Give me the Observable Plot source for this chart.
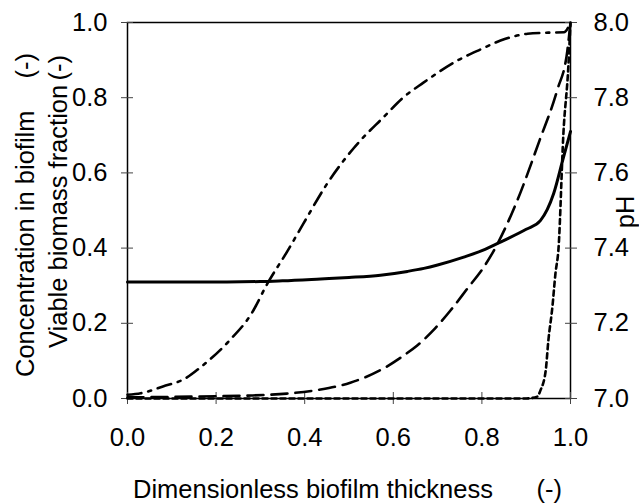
<!DOCTYPE html>
<html>
<head>
<meta charset="utf-8">
<script src="https://cdn.jsdelivr.net/npm/d3@7"></script>
<script src="https://cdn.jsdelivr.net/npm/@observablehq/plot@0.6"></script>
<style>
  html, body { margin: 0; padding: 0; background: #fff; }
  svg text { font-family: "Liberation Sans", Arial, sans-serif; }
</style>
</head>
<body>
<div id="chart"></div>
<script>
// Dimensionless biofilm thickness (x) and profiles
const xTicks = [0, 0.2, 0.4, 0.6, 0.8, 1.0];
const leftTicks = [0, 0.2, 0.4, 0.6, 0.8, 1.0];
const pHTicks = [7.0, 7.2, 7.4, 7.6, 7.8, 8.0];

// Solid line: pH (right axis)
const pHX = [0, 0.1, 0.2, 0.3, 0.35, 0.436, 0.5, 0.571, 0.632, 0.669, 0.7, 0.759, 0.8, 0.849, 0.9, 0.932, 0.962, 0.984, 1.0];
const pHY = [7.31, 7.31, 7.31, 7.311, 7.313, 7.318, 7.322, 7.328, 7.338, 7.346, 7.355, 7.376, 7.393, 7.42, 7.45, 7.473, 7.545, 7.641, 7.71];

// Dash-dot line: viable biomass fraction
const viableX = [0, 0.03, 0.08, 0.13, 0.17, 0.23, 0.28, 0.316, 0.36, 0.397, 0.451, 0.51, 0.582, 0.62, 0.668, 0.745, 0.8, 0.842, 0.903, 0.95, 0.985, 1.0];
const viableY = [0.01, 0.014, 0.032, 0.053, 0.088, 0.154, 0.226, 0.306, 0.39, 0.465, 0.572, 0.665, 0.753, 0.798, 0.84, 0.899, 0.93, 0.952, 0.97, 0.973, 0.974, 1.0];

// Dashed line: concentration in biofilm (1)
const concAX = [0, 0.2, 0.28, 0.36, 0.436, 0.503, 0.578, 0.623, 0.654, 0.69, 0.729, 0.767, 0.804, 0.83, 0.88, 0.93, 0.97, 0.993, 1.0];
const concAY = [0.003, 0.006, 0.008, 0.013, 0.024, 0.042, 0.08, 0.114, 0.141, 0.181, 0.234, 0.292, 0.349, 0.4, 0.527, 0.686, 0.82, 0.926, 1.0];

// Dotted line: concentration in biofilm (2)
const concBX = [0, 0.5, 0.9, 0.925, 0.932, 0.944, 0.95, 0.959, 0.966, 0.973, 0.984, 0.995, 1.0];
const concBY = [0, 0, 0, 0.005, 0.021, 0.074, 0.154, 0.242, 0.332, 0.40, 0.705, 0.88, 1.0];

const toRows = (xs, ys) => xs.map((x, i) => ({x, y: ys[i]}));
const pHRows = toRows(pHX, pHY.map(v => v - 7)); // right axis 7..8 mapped onto 0..1
const viableRows = toRows(viableX, viableY);
const concARows = toRows(concAX, concAY);
const concBRows = toRows(concBX, concBY);

const FS = 25.5;
const tickStroke = "#444";

const plot = Plot.plot({
  width: 639,
  height: 503,
  marginTop: 22,
  marginRight: 69,
  marginBottom: 105,
  marginLeft: 127,
  style: {background: "#fff", color: "#000", fontFamily: "Liberation Sans, Arial, sans-serif"},
  x: {domain: [0, 1]},
  y: {domain: [0, 1]},
  marks: [
    Plot.frame({stroke: "#000", strokeWidth: 1.5}),
    // outer ticks + labels
    Plot.axisX(xTicks, {anchor: "bottom", tickSize: 6, tickPadding: 23, fontSize: FS, tickFormat: d => d.toFixed(1), stroke: tickStroke, label: null}),
    Plot.axisY(leftTicks, {anchor: "left", tickSize: 6, tickPadding: 14, fontSize: FS, tickFormat: d => d.toFixed(1), stroke: tickStroke, label: null}),
    Plot.axisY(pHTicks.map(v => v - 7), {anchor: "right", tickSize: 6, tickPadding: 17, fontSize: FS, tickFormat: d => (d + 7).toFixed(1), stroke: tickStroke, label: null}),
    // inner ticks
    Plot.axisX(xTicks, {anchor: "bottom", tickSize: -6, tickFormat: () => "", stroke: tickStroke, label: null}),
    Plot.axisY(leftTicks, {anchor: "left", tickSize: -6, tickFormat: () => "", stroke: tickStroke, label: null}),
    Plot.axisY(pHTicks.map(v => v - 7), {anchor: "right", tickSize: -6, tickFormat: () => "", stroke: tickStroke, label: null}),
    // curves
    Plot.line(concBRows, {x: "x", y: "y", stroke: "#000", strokeWidth: 2.6, strokeDasharray: "5,4", curve: "monotone-x"}),
    Plot.line(concARows, {x: "x", y: "y", stroke: "#000", strokeWidth: 2.6, strokeDasharray: "16,8", curve: "monotone-x"}),
    Plot.line(viableRows, {x: "x", y: "y", stroke: "#000", strokeWidth: 2.6, strokeDasharray: "14,7,3,7", curve: "monotone-x"}),
    Plot.line(pHRows, {x: "x", y: "y", stroke: "#000", strokeWidth: 3, curve: "monotone-x"})
  ]
});

const svg = d3.select(plot);
svg.style("overflow", "visible");
const addText = (txt, x, y, rot, anchor) => {
  const t = svg.append("text")
    .attr("x", 0).attr("y", 0)
    .attr("transform", `translate(${x},${y})` + (rot ? ` rotate(${rot})` : ""))
    .attr("text-anchor", anchor)
    .attr("font-size", FS)
    .attr("fill", "#000")
    .text(txt);
  return t;
};
// x title
addText("Dimensionless biofilm thickness", 133, 498, 0, "start");
addText("(-)", 562, 498, 0, "end");
// left y titles (two lines)
addText("Concentration in biofilm", 34, 377, -90, "start");
addText("(-)", 34, 53, -90, "end");
addText("Viable biomass fraction", 67, 348, -90, "start");
addText("(-)", 67, 55, -90, "end");
// right y title
addText("pH", 634, 212, -90, "middle");

document.getElementById("chart").appendChild(plot);
</script>
</body>
</html>
